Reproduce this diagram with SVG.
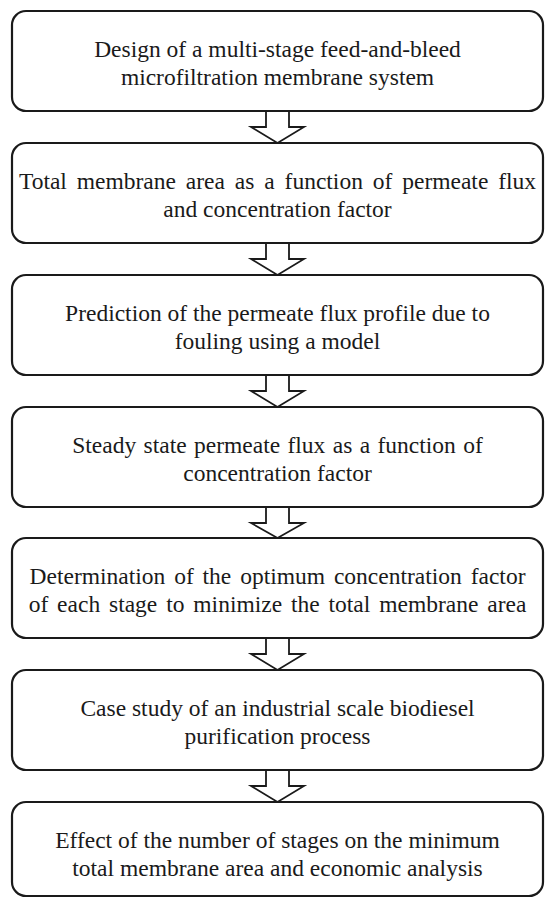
<svg xmlns="http://www.w3.org/2000/svg" width="545" height="898" viewBox="0 0 545 898">
<style>
.box{fill:#fff;stroke:#1a1a1a;stroke-width:2.2}
.arr{fill:#fff;stroke:#1a1a1a;stroke-width:1.8;stroke-linejoin:miter}
text{font-family:'Liberation Serif','Times New Roman',serif;font-size:23.5px;fill:#1a1a1a;text-anchor:middle}
.w{word-spacing:4px}
.w3{word-spacing:3px}
.w2{word-spacing:1.5px}
</style>
<rect width="545" height="898" fill="#fff"/>
<g id="connectors">
<polygon class="arr" points="266,111 266,127 251,127 277.5,143 304,127 289,127 289,111"/>
<polygon class="arr" points="266,243 266,259 251,259 277.5,275 304,259 289,259 289,243"/>
<polygon class="arr" points="266,375 266,391 251,391 277.5,407 304,391 289,391 289,375"/>
<polygon class="arr" points="266,507 266,523 251,523 277.5,538 304,523 289,523 289,507"/>
<polygon class="arr" points="266,638 266,654 251,654 277.5,670 304,654 289,654 289,638"/>
<polygon class="arr" points="266,770 266,786 251,786 277.5,802 304,786 289,786 289,770"/>
</g>
<g id="n1"><rect class="box" x="12" y="11" width="531" height="100" rx="14"/>
<text x="277.5" y="57">Design of a multi-stage feed-and-bleed</text><text x="277.5" y="85">microfiltration membrane system</text></g>
<g id="n2"><rect class="box" x="12" y="143" width="531" height="100" rx="14"/>
<text class="w" x="277.5" y="189">Total membrane area as a function of permeate flux</text><text x="277.5" y="217">and concentration factor</text></g>
<g id="n3"><rect class="box" x="12" y="275" width="531" height="100" rx="14"/>
<text x="277.5" y="321">Prediction of the permeate flux profile due to</text><text x="277.5" y="349">fouling using a model</text></g>
<g id="n4"><rect class="box" x="12" y="407" width="531" height="100" rx="14"/>
<text class="w2" x="277.5" y="453">Steady state permeate flux as a function of</text><text x="277.5" y="481">concentration factor</text></g>
<g id="n5"><rect class="box" x="12" y="538" width="531" height="100" rx="14"/>
<text class="w3" x="277.5" y="584">Determination of the optimum concentration factor</text><text class="w3" x="277.5" y="612">of each stage to minimize the total membrane area</text></g>
<g id="n6"><rect class="box" x="12" y="670" width="531" height="100" rx="14"/>
<text x="277.5" y="716">Case study of an industrial scale biodiesel</text><text x="277.5" y="744">purification process</text></g>
<g id="n7"><rect class="box" x="12" y="802" width="531" height="94" rx="14"/>
<text x="277.5" y="848">Effect of the number of stages on the minimum</text><text x="277.5" y="876">total membrane area and economic analysis</text></g>
</svg>
